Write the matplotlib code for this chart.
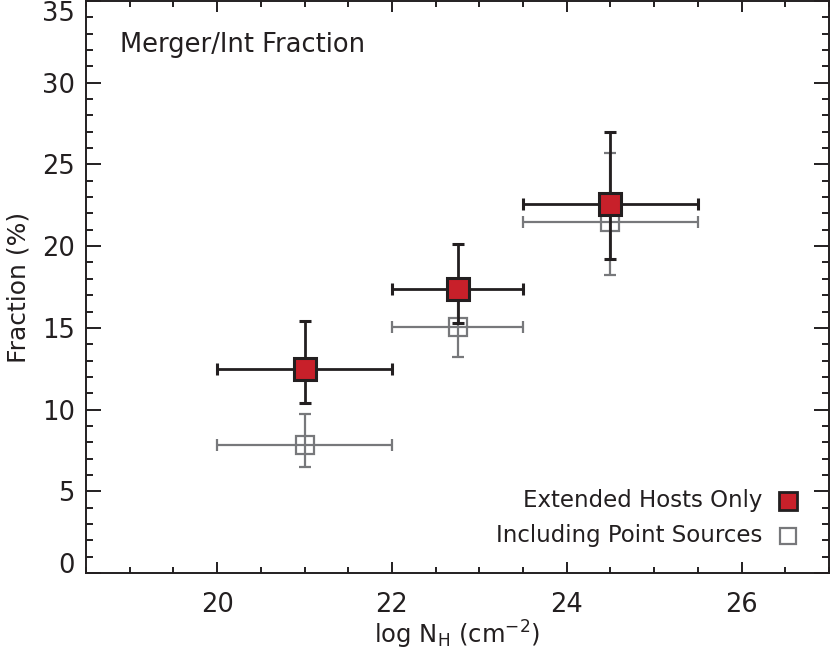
import numpy as np
from matplotlib import pyplot as plt
from matplotlib.ticker import MultipleLocator

# log NH bins (centre and edges)
nh = [21.0, 22.75, 24.5]
nh_lo = [20.0, 22.0, 23.5]
nh_hi = [22.0, 23.5, 25.5]

# extended hosts only
ext_frac = [12.5, 17.4, 22.6]
ext_lo = [10.4, 15.3, 19.2]
ext_hi = [15.45, 20.15, 27.0]

# including point sources
pts_frac = [7.85, 15.08, 21.45]
pts_lo = [6.5, 13.2, 18.25]
pts_hi = [9.75, 17.0, 25.7]

yticks = [0, 5, 10, 15, 20, 25, 30, 35]
xticks = [20, 22, 24, 26]

ink = '#231f20'
red = '#c8202a'
grey = '#77787b'

plt.rcParams['font.family'] = ['DejaVu Sans']

fig = plt.figure(figsize=(8.30, 6.51), dpi=100)
ax = fig.add_axes([86/830, 78/651, 743/830, 572/651])

x = np.array(nh)
xerr = [x - np.array(nh_lo), np.array(nh_hi) - x]

y2 = np.array(pts_frac)
ax.errorbar(x, y2, xerr=xerr, yerr=[y2 - np.array(pts_lo), np.array(pts_hi) - y2],
            fmt='s', ms=13.5, mfc='none', mec=grey, mew=1.6,
            ecolor=grey, elinewidth=1.6, capsize=4, capthick=1.6, zorder=2)

y1 = np.array(ext_frac)
ax.errorbar(x, y1, xerr=xerr, yerr=[y1 - np.array(ext_lo), np.array(ext_hi) - y1],
            fmt='s', ms=16.5, mfc=red, mec=ink, mew=2.2,
            ecolor=ink, elinewidth=2.0, capsize=4.5, capthick=2.0, zorder=3)

ax.set_xlim(18.5, 27.0)
ax.set_ylim(0, 35)
ax.set_xticks(xticks)
ax.set_yticks(yticks)
ax.xaxis.set_minor_locator(MultipleLocator(0.5))
ax.yaxis.set_minor_locator(MultipleLocator(1))
ax.tick_params(which='both', direction='in', top=True, right=True,
               color=ink, width=1.4, labelsize=18.5, labelcolor=ink)
ax.tick_params(axis='y', which='major', length=10.5, pad=8)
ax.tick_params(axis='y', which='minor', length=5)
ax.tick_params(axis='x', which='major', length=8, pad=14)
ax.tick_params(axis='x', which='minor', length=4.5)
for s in ax.spines.values():
    s.set_linewidth(1.4)
    s.set_color(ink)

# IDL style: end labels sit inside the axis range
ylabs = ax.get_yticklabels()
ylabs[0].set_va('baseline')
ylabs[-1].set_va('top')

ax.set_xlabel(r'log N$_\mathregular{H}$ (cm$^{-2}$)', fontsize=17.5, color=ink, labelpad=0)
ax.set_ylabel('Fraction (%)', fontsize=18, color=ink, labelpad=8)

ax.text(0.046, 0.91, 'Merger/Int Fraction', transform=ax.transAxes,
        fontsize=18.5, color=ink, va='baseline')

# legend, drawn by hand
ax.text(0.911, 0.1264, 'Extended Hosts Only', transform=ax.transAxes,
        fontsize=16.5, color=ink, ha='right', va='center')
ax.text(0.911, 0.0647, 'Including Point Sources', transform=ax.transAxes,
        fontsize=16.5, color=ink, ha='right', va='center')
ax.plot([0.945], [0.1264], 's', ms=13, mfc=red, mec=ink, mew=2.0,
        transform=ax.transAxes, clip_on=False)
ax.plot([0.945], [0.0647], 's', ms=11.5, mfc='none', mec=grey, mew=1.6,
        transform=ax.transAxes, clip_on=False)

fig.savefig('out.png', dpi=100)
